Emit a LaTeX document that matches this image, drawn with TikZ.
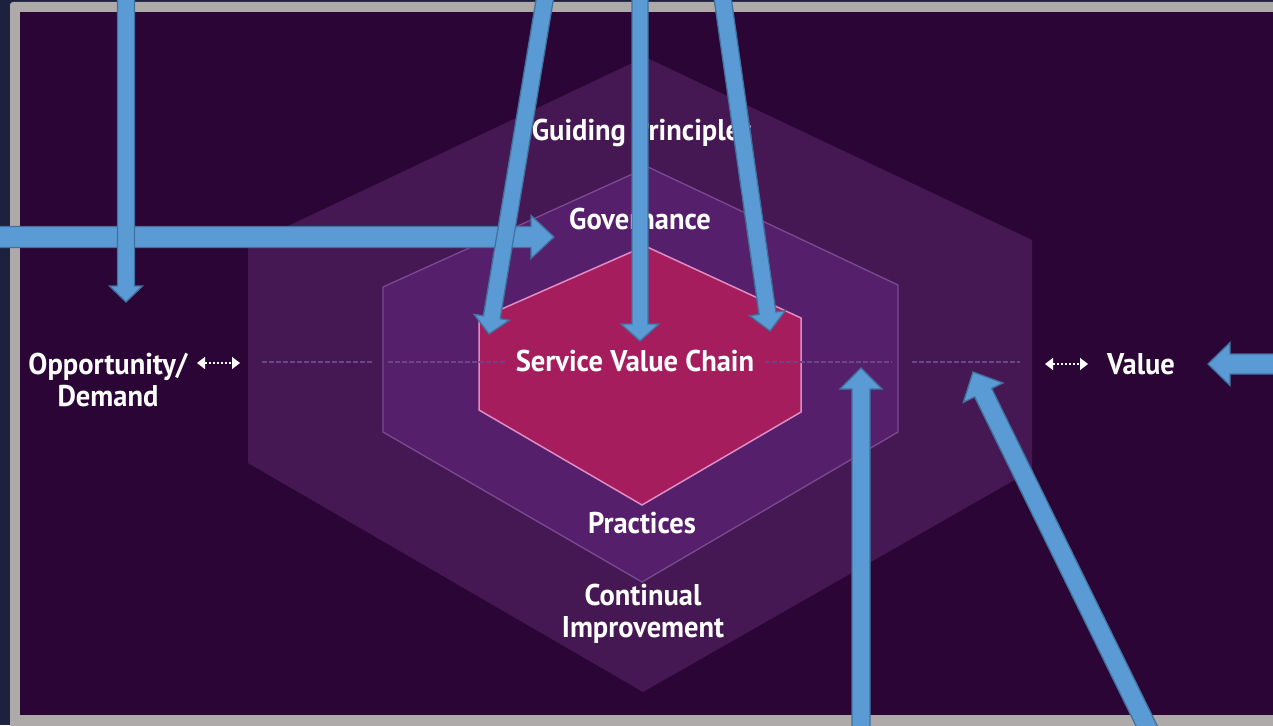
\documentclass[tikz,border=0pt]{standalone}
\usepackage{fontspec}
\newfontfamily\svsfont{PT Sans}[FakeStretch=0.95]
\usetikzlibrary{arrows.meta,calc}

\definecolor{svsNavy}{HTML}{1D2140}
\definecolor{svsFrame}{HTML}{AEAAA9}
\definecolor{svsBack}{HTML}{2A0535}
\definecolor{svsOuter}{HTML}{461853}
\definecolor{svsMiddle}{HTML}{561F6C}
\definecolor{svsCore}{HTML}{A51D5C}
\definecolor{svsMiddleEdge}{HTML}{7A4A92}
\definecolor{svsCoreEdge}{HTML}{E08CC4}
\definecolor{svsTrace}{HTML}{6C4683}
\definecolor{calloutFill}{HTML}{5B9BD5}
\definecolor{calloutEdge}{HTML}{41719C}

\begin{document}
\begin{tikzpicture}[
        x=1pt, y=-1pt,
        font=\svsfont\bfseries\fontsize{30}{32}\selectfont,
        svs label/.style ={text=white, inner sep=0pt, align=center},
        svs trace/.style ={svsTrace, line width=1.2pt, dash pattern=on 5pt off 2pt},
        svs flow/.style  ={white, line width=1.3pt, dash pattern=on 2pt off 2pt,
                {Triangle[width=12pt,length=8pt]}-{Triangle[width=12pt,length=8pt]}},
        callout/.style   ={fill=calloutFill, draw=calloutEdge, line width=1.3pt, line join=miter}
    ]
    \useasboundingbox (0,0) rectangle (1273,725);
    \clip (0,0) rectangle (1273,725);
    %% --- frame and background -------------------------------------------
    \fill[svsNavy] (0,0) rectangle (1273,725);
    \fill[svsFrame, rounded corners=3pt] (10,2) rectangle (1300,740);
    \fill[svsBack] (20,12) rectangle (1273,715);
    %% --- nested hexagons --------------------------------------------------
    \fill[svsOuter] (645,57) -- (1032,240) -- (1032,470) -- (643,692)
        -- (248,463) -- (248,245) -- cycle;
    \filldraw[fill=svsMiddle, draw=svsMiddleEdge, line width=1.3pt]
        (648,167) -- (898,285) -- (898,432) -- (642,582)
        -- (383,432) -- (383,287) -- cycle;
    \filldraw[fill=svsCore, draw=svsCoreEdge, line width=1.5pt]
        (645,246) -- (801,318) -- (801,412) -- (642,505)
        -- (479,410) -- (479,319) -- cycle;
    %% --- faint centre line ------------------------------------------------
    \foreach \a/\b in {262/372, 388/505, 765/892, 912/1020} {
            \draw[svs trace] (\a,362) -- (\b,362);
        }
    %% --- labels -----------------------------------------------------------
    \node[svs label] (guiding)    at (642,133) {Guiding Principles};
    \node[svs label] (governance) at (640,219) {Governance};
    \node[svs label] (chain)      at (635,361) {Service Value Chain};
    \node[svs label] (practices)  at (642,523) {Practices};
    \node[svs label] (continual)  at (643,595) {Continual};
    \node[svs label] (improve)    at (643,630) {Improvement};
    \node[svs label] (demand)     at (108,380) {Opportunity/\\Demand};
    \node[svs label] (value)      at (1141,364) {Value};
    %% --- in and out flows -------------------------------------------------
    \coordinate (inL)  at (197,363);
    \coordinate (inR)  at (240,363);
    \coordinate (outL) at (1045,364);
    \coordinate (outR) at (1088,364);
    \draw[svs flow] (inL) -- (inR);
    \draw[svs flow] (outL) -- (outR);
    %% --- callout arrows ---------------------------------------------------
    \coordinate (tail1) at (126,-20);   \coordinate (tip1) at (126,302);
    \coordinate (tail2) at (-20,237);   \coordinate (tip2) at (554,237);
    \coordinate (tail3) at (548,-20);   \coordinate (tip3) at (489,334);
    \coordinate (tail4) at (640,-20);   \coordinate (tip4) at (640,341);
    \coordinate (tail5) at (720,-20);   \coordinate (tip5) at (770,331);
    \coordinate (tail6) at (861,745);   \coordinate (tip6) at (861,368);
    \coordinate (tail7) at (1156,745);  \coordinate (tip7) at (973,372);
    \coordinate (tail8) at (1293,364);  \coordinate (tip8) at (1208,364);
    % i / shaft half width / head half width / head length
    \foreach \i/\s/\w/\l in {2/10.5/21.5/23, 1/8.5/16.5/16, 3/8.5/18/17,
            4/8/19/17, 5/8.5/18/18, 6/9/21/21, 7/9.5/22/23, 8/10/21.5/22} {
            \coordinate (base) at ($(tip\i)!\l pt!(tail\i)$);
            \filldraw[callout]
            ($(tail\i)!\s pt!90:(tip\i)$) -- ($(base)!\s pt!90:(tip\i)$)
            -- ($(base)!\w pt!90:(tip\i)$) -- (tip\i)
            -- ($(base)!\w pt!-90:(tip\i)$) -- ($(base)!\s pt!-90:(tip\i)$)
            -- ($(tail\i)!\s pt!-90:(tip\i)$) -- cycle;
        }
\end{tikzpicture}
\end{document}
